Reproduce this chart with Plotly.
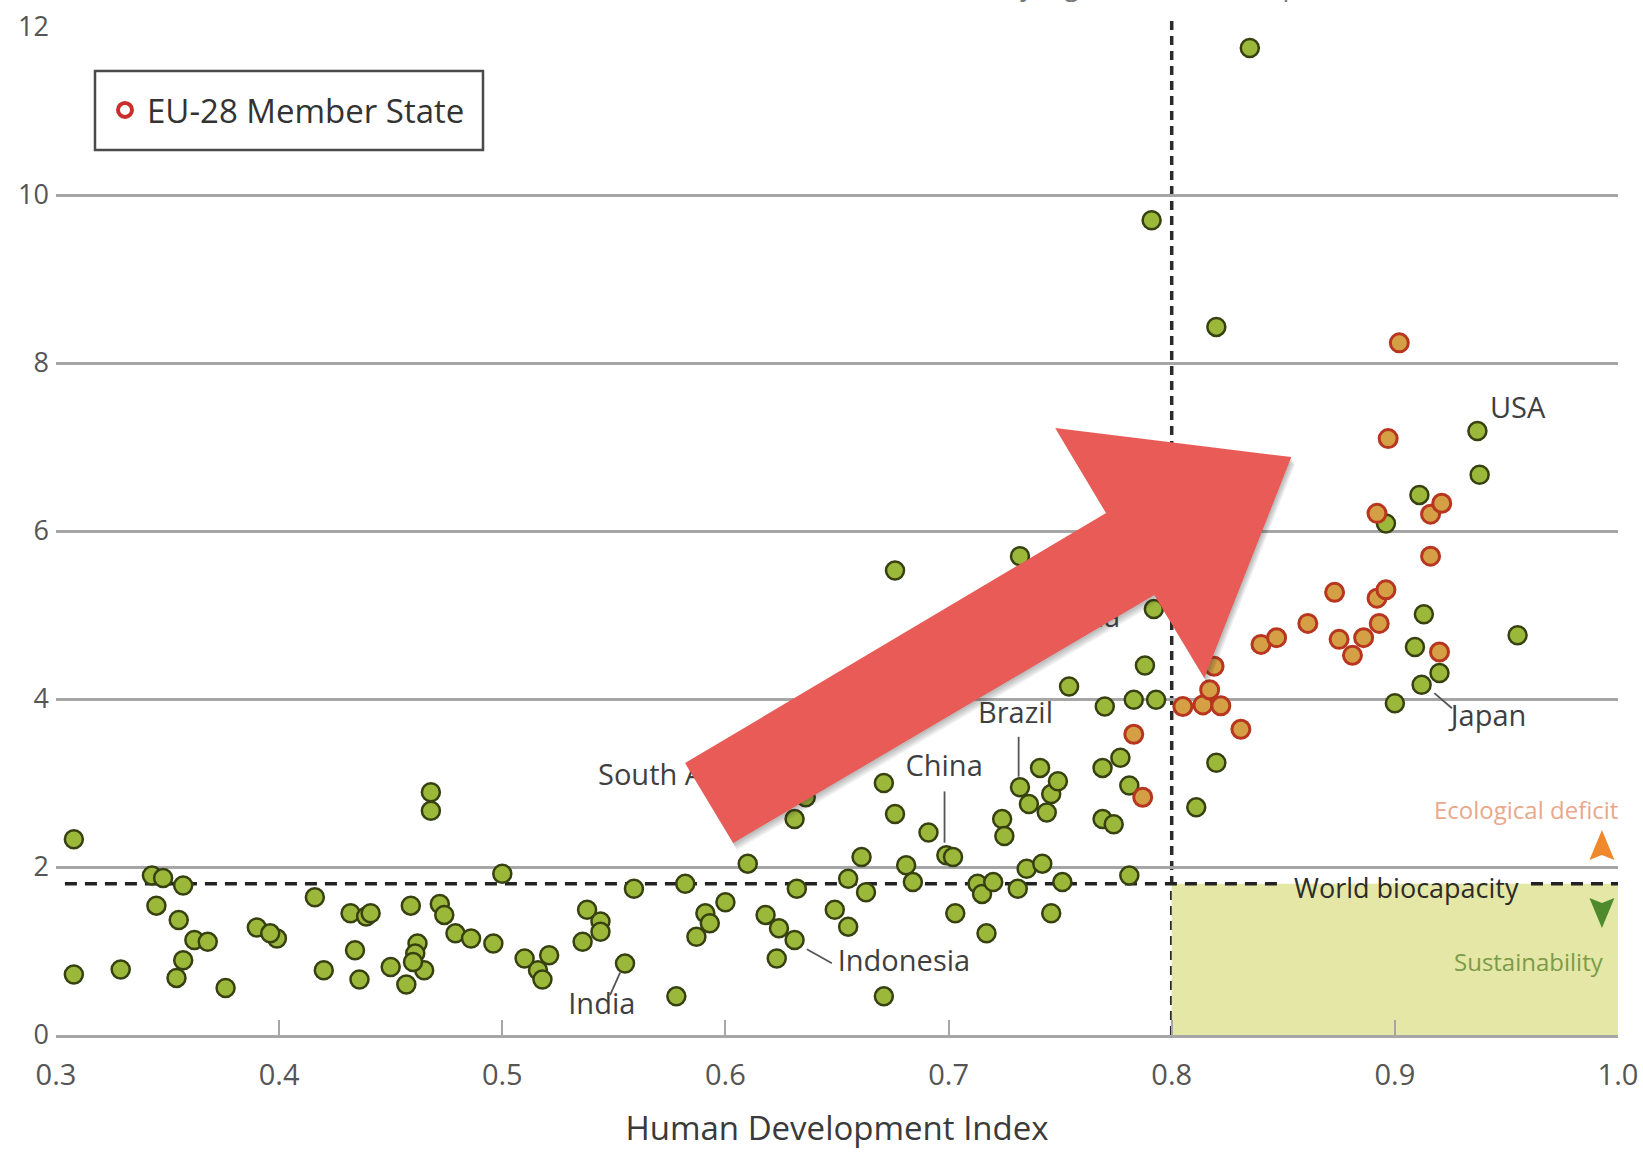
import plotly.graph_objects as go

# ---------------------------------------------------------------------------
# Ecological footprint (global hectares per person) against the
# Human Development Index, one marker per country.
# ---------------------------------------------------------------------------
hdi_other = [
    0.308, 0.308, 0.329, 0.343, 0.348, 0.345, 0.357, 0.355, 0.357, 0.354,
    0.362, 0.368, 0.376, 0.390, 0.399, 0.396, 0.416, 0.420, 0.432, 0.439,
    0.441, 0.434, 0.436, 0.450, 0.459, 0.457, 0.462, 0.461, 0.465, 0.460,
    0.468, 0.468, 0.472, 0.474, 0.479, 0.486, 0.496, 0.500, 0.510, 0.516,
    0.518, 0.521, 0.536, 0.538, 0.544, 0.544, 0.555, 0.559, 0.578, 0.582,
    0.587, 0.591, 0.593, 0.600, 0.610, 0.618, 0.624, 0.623, 0.631, 0.632,
    0.631, 0.636,
    0.649, 0.655, 0.655, 0.661, 0.663, 0.671, 0.671, 0.676, 0.676, 0.681,
    0.684, 0.691, 0.699, 0.702, 0.703, 0.713, 0.715, 0.717, 0.720, 0.724,
    0.725, 0.732, 0.732, 0.731, 0.735, 0.736, 0.741, 0.742, 0.744, 0.746,
    0.749, 0.746, 0.751, 0.754, 0.770, 0.769, 0.777, 0.769, 0.774, 0.781,
    0.781, 0.783, 0.788, 0.793, 0.792, 0.791, 0.811, 0.820, 0.820, 0.835,
    0.896, 0.911, 0.937, 0.938, 0.913, 0.909, 0.920, 0.912, 0.900, 0.955,
]
footprint_other = [
    2.33, 0.72, 0.78, 1.90, 1.87, 1.54, 1.78, 1.37, 0.89, 0.68,
    1.13, 1.11, 0.56, 1.28, 1.15, 1.21, 1.64, 0.77, 1.45, 1.41,
    1.45, 1.01, 0.66, 0.81, 1.54, 0.60, 1.09, 0.97, 0.77, 0.87,
    2.89, 2.67, 1.56, 1.43, 1.21, 1.15, 1.09, 1.92, 0.91, 0.77,
    0.66, 0.95, 1.11, 1.49, 1.35, 1.23, 0.85, 1.74, 0.46, 1.80,
    1.17, 1.45, 1.33, 1.58, 2.04, 1.43, 1.27, 0.91, 1.13, 1.74,
    2.57, 2.83,
    1.49, 1.29, 1.86, 2.12, 1.70, 3.00, 0.46, 2.63, 5.53, 2.02,
    1.82, 2.41, 2.14, 2.12, 1.45, 1.80, 1.68, 1.21, 1.82, 2.57,
    2.37, 2.95, 5.70, 1.74, 1.98, 2.75, 3.18, 2.04, 2.65, 2.87,
    3.02, 1.45, 1.82, 4.15, 3.91, 3.18, 3.30, 2.57, 2.51, 2.97,
    1.90, 3.99, 4.40, 3.99, 5.07, 9.70, 2.71, 3.24, 8.43, 11.75,
    6.09, 6.43, 7.19, 6.67, 5.01, 4.62, 4.31, 4.17, 3.95, 4.76,
]

# EU-28 member states
hdi_eu = [
    0.783, 0.787, 0.805, 0.814, 0.817, 0.819, 0.822, 0.831, 0.840, 0.847,
    0.861, 0.873, 0.875, 0.881, 0.886, 0.893, 0.892, 0.896, 0.892, 0.897,
    0.902, 0.916, 0.921, 0.916, 0.920,
]
footprint_eu = [
    3.58, 2.83, 3.91, 3.93, 4.11, 4.39, 3.92, 3.64, 4.65, 4.73,
    4.90, 5.27, 4.71, 4.52, 4.73, 4.90, 5.20, 5.30, 6.21, 7.10,
    8.24, 6.20, 6.33, 5.70, 4.56,
]

world_biocapacity = 1.8      # gha per person
very_high_hdi = 0.8          # threshold of "very high human development"

x_ticks = [0.3, 0.4, 0.5, 0.6, 0.7, 0.8, 0.9, 1.0]
x_tick_text = ["0.3", "0.4", "0.5", "0.6", "0.7", "0.8", "0.9", "1.0"]
y_ticks = [0, 2, 4, 6, 8, 10, 12]

# ---------------------------------------------------------------------------
# Styling
# ---------------------------------------------------------------------------
FONT = "Open Sans"
GREEN_FILL = "#9cb83b"
GREEN_EDGE = "#36410f"
EU_FILL = "#d59f45"
EU_EDGE = "#b8351f"
GRID = "#a6a6a6"
LABEL = "#3f3f3f"

W, H = 1643, 1155
M_L, M_R, M_T, M_B = 56, 25, 27, 120
X_RANGE = [0.3, 1.0]
Y_RANGE = [0, 12]
# data units per screen pixel, used for pixel-sized decorations
DX = (X_RANGE[1] - X_RANGE[0]) / (W - M_L - M_R)
DY = (Y_RANGE[1] - Y_RANGE[0]) / (H - M_T - M_B)


def paper_x(px):
    return (px - M_L) / (W - M_L - M_R)


def paper_y(py):
    return (H - M_B - py) / (H - M_T - M_B)


fig = go.Figure()

fig.add_trace(go.Scatter(
    x=hdi_other, y=footprint_other, mode="markers", showlegend=False,
    hoverinfo="skip",
    marker=dict(size=18, color=GREEN_FILL, line=dict(color=GREEN_EDGE, width=2.5)),
))
fig.add_trace(go.Scatter(
    x=hdi_eu, y=footprint_eu, mode="markers", showlegend=False,
    hoverinfo="skip",
    marker=dict(size=18, color=EU_FILL, line=dict(color=EU_EDGE, width=3)),
))
# legend entry for the EU ring
fig.add_trace(go.Scatter(
    x=[None], y=[None], mode="markers", name="EU-28 Member State",
    marker=dict(symbol="circle-open", size=14, color="#c9302c", line=dict(width=4)),
))

# country call-outs: (name, text x, text y, text position, leader line)
callouts = [
    ("USA", 0.955, 7.43, "middle center", None),
    ("Japan", 0.942, 3.76, "middle center", (0.9177, 4.07, 0.9256, 3.89)),
    ("Brazil", 0.730, 3.80, "middle center", (0.7314, 3.55, 0.7314, 3.075)),
    ("China", 0.698, 3.17, "middle center", (0.6982, 2.90, 0.6982, 2.29)),
    ("Indonesia", 0.680, 0.85, "middle center", (0.6365, 1.02, 0.6477, 0.854)),
    ("India", 0.5446, 0.34, "middle center", (0.5528, 0.742, 0.5483, 0.476)),
    ("South Africa", 0.5429, 3.06, "middle right", None),
    ("Russia", 0.7769, 4.94, "middle left", None),
]
fig.add_trace(go.Scatter(
    x=[c[1] for c in callouts], y=[c[2] for c in callouts],
    text=[c[0] for c in callouts], textposition=[c[3] for c in callouts],
    mode="text", showlegend=False, hoverinfo="skip", cliponaxis=False,
    textfont=dict(family=FONT, size=29, color=LABEL),
))

shapes = []
# legend frame
shapes.append(dict(type="rect", xref="paper", yref="paper",
                   x0=paper_x(95), x1=paper_x(483), y0=paper_y(150), y1=paper_y(71),
                   fillcolor="white", line=dict(color="#4a4a4a", width=2.5), layer="between"))
# sustainability quadrant: very high HDI within world biocapacity
shapes.append(dict(type="rect", xref="x", yref="y", x0=very_high_hdi, x1=X_RANGE[1],
                   y0=0, y1=world_biocapacity, fillcolor="#e4e7a6",
                   line=dict(width=0), layer="below"))
# world biocapacity line, interrupted by its label
for x0, x1 in [(0.304, 0.849), (0.961, 1.0)]:
    shapes.append(dict(type="line", xref="x", yref="y", x0=x0, x1=x1,
                       y0=world_biocapacity, y1=world_biocapacity,
                       line=dict(color="#222", width=3.5, dash="12px,8px"),
                       layer="between"))
# very-high-HDI threshold
shapes.append(dict(type="line", xref="x", yref="paper", x0=very_high_hdi, x1=very_high_hdi,
                   y0=0, y1=1.007, line=dict(color="#2a2a2a", width=3.5, dash="9px,6px"),
                   layer="between"))
# leader lines
for c in callouts:
    if c[4]:
        x0, y0, x1, y1 = c[4]
        shapes.append(dict(type="line", xref="x", yref="y", x0=x0, y0=y0, x1=x1, y1=y1,
                           line=dict(color="#555", width=1.8), layer="above"))


def path_from(points, dx_px=0.0, dy_px=0.0):
    pts = [(x + dx_px * DX, y - dy_px * DY) for x, y in points]
    return "M " + " L ".join(f"{x:.5f},{y:.4f}" for x, y in pts) + " Z"


# big highlight arrow pointing to the upper right
arrow = [(0.5819, 3.238), (0.7706, 6.214), (0.7478, 7.226), (0.8536, 6.881),
         (0.8146, 4.250), (0.7922, 5.238), (0.6035, 2.286)]
for k in range(1, 6):
    shapes.append(dict(type="path", xref="x", yref="y", path=path_from(arrow, 0.8 * k, 1.4 * k),
                       fillcolor="rgba(40,40,40,0.07)", line=dict(width=0), layer="above"))
shapes.append(dict(type="path", xref="x", yref="y", path=path_from(arrow),
                   fillcolor="#e95b56", line=dict(width=0), layer="above"))

# deficit / sustainability direction markers
tri_x = 0.9928
up = [(tri_x - 12.5 * DX, 2.083), (tri_x, 2.440), (tri_x + 12.5 * DX, 2.083), (tri_x, 2.143)]
down = [(tri_x - 12.5 * DX, 1.631), (tri_x, 1.274), (tri_x + 12.5 * DX, 1.631), (tri_x, 1.571)]
shapes.append(dict(type="path", xref="x", yref="y", path=path_from(up),
                   fillcolor="#f0882c", line=dict(width=0), layer="above"))
shapes.append(dict(type="path", xref="x", yref="y", path=path_from(down),
                   fillcolor="#4f8a2e", line=dict(width=0), layer="above"))

annotations = [
    dict(text="World biocapacity", x=0.905, y=1.76, xref="x", yref="y",
         showarrow=False, font=dict(family=FONT, size=27, color="#2b2b2b")),
    dict(text="Ecological deficit", x=1.0, y=2.68, xref="x", yref="y", xanchor="right",
         xshift=2, showarrow=False, font=dict(family=FONT, size=24, color="#e9a88b")),
    dict(text="Sustainability", x=0.993, y=0.87, xref="x", yref="y", xanchor="right",
         xshift=4, showarrow=False, font=dict(family=FONT, size=24, color="#7d9a48")),
    dict(text="Very high human development", x=very_high_hdi, y=1.0218, xref="x", yref="paper",
         yanchor="bottom", showarrow=False, font=dict(family=FONT, size=27, color="#777")),
]

fig.update_layout(
    width=W, height=H,
    margin=dict(l=M_L, r=M_R, t=M_T, b=M_B),
    paper_bgcolor="white", plot_bgcolor="white",
    font=dict(family=FONT, color="#555"),
    xaxis=dict(
        range=X_RANGE, tickvals=x_ticks, ticktext=x_tick_text, automargin=False,
        ticks="inside", ticklen=15, tickwidth=2, tickcolor=GRID,
        showgrid=False, zeroline=False, showline=True, linecolor=GRID, linewidth=3,
        tickfont=dict(size=29, color="#555"), ticklabelstandoff=12,
        title=dict(text="Human Development Index", standoff=26,
                   font=dict(size=33, color="#3a3a3a")),
    ),
    yaxis=dict(
        range=Y_RANGE, tickvals=y_ticks, ticks="", automargin=False,
        showgrid=True, gridcolor=GRID, gridwidth=3, zeroline=False, showline=False,
        tickfont=dict(size=27, color="#555"), ticklabelstandoff=6,
    ),
    legend=dict(x=paper_x(103), y=paper_y(110), xanchor="left", yanchor="middle",
                bgcolor="rgba(0,0,0,0)", borderwidth=0, itemwidth=34,
                font=dict(size=33, color="#333")),
    shapes=shapes,
    annotations=annotations,
)

fig.write_html("out.html", post_script="document.body.style.margin='0';")
